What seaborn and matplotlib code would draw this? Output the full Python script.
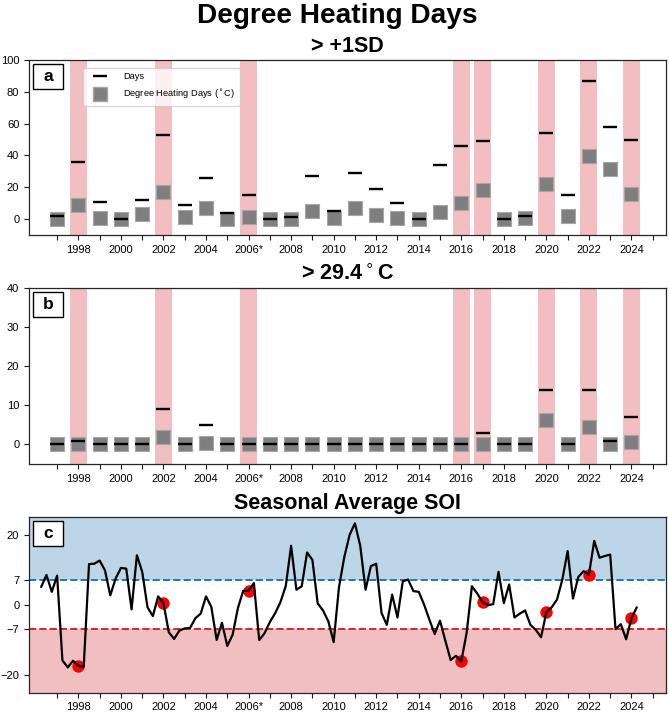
import numpy as np
import pandas as pd
import matplotlib
matplotlib.use("Agg")
import matplotlib.pyplot as plt
import seaborn as sns
from matplotlib.patches import Rectangle
from matplotlib.lines import Line2D

# ---------------- data ----------------
years = list(range(1997, 2025))
event_years = [1998, 2002, 2006, 2016, 2017, 2020, 2022, 2024]

days_sd = [2, 36, 11, 0, 12, 53, 9, 26, 4, 15, 0, 1, 27, 5,
           29, 19, 10, 0, 34, 46, 49, 0, 2, 54, 15, 87, 58, 50]
dhd_sd = [0.2, 9, 0.7, 0, 3, 16.7, 1.2, 7.2, 0, 1.5, 0, 0, 5, 0.6,
          7, 2.6, 0.7, 0, 4.5, 9.9, 18, 0, 0.5, 22, 1.9, 39.7, 31.7, 15.6]

days_294 = [0, 1, 0, 0, 0, 9, 0, 5, 0, 0, 0, 0, 0, 0,
            0, 0, 0, 0, 0, 0, 3, 0, 0, 14, 0, 14, 1, 7]
dhd_294 = [0, 0, 0, 0, 0, 1.9, 0, 0.5, 0, 0, 0, 0, 0, 0,
           0, 0, 0, 0, 0, 0, 0.1, 0, 0, 6.3, 0, 4.5, 0, 0.6]

soi_start = 1996.25
soi_values = [
    5.1, 8.5, 3.7,
    8.3, -15.8, -17.8, -15.9,
    -17.3, -17.7, 11.6, 11.7,
    12.6, 9.8, 2.7, 7.5,
    10.5, 10.3, -1.3, 14.1,
    9.4, -0.7, -3.2, 2.4,
    0.5, -7.8, -9.7, -7.3,
    -6.7, -6.6, -3.8, -2.5,
    2.4, -0.6, -10.0, -5.1,
    -11.7, -8.5, -0.9, 4.0,
    4.0, 6.2, -10.0, -8.1,
    -4.9, -2.4, 0.8, 5.4,
    16.8, 4.3, 5.3, 14.9,
    12.8, 0.4, -1.6, -4.7,
    -10.6, 5.0, 13.6, 19.9,
    23.2, 16.8, 4.3, 11.0,
    11.7, -2.3, -5.7, 2.9,
    -3.6, 6.7, 7.2, 3.9,
    3.7, 0.1, -4.2, -8.3,
    -4.5, -10.2, -15.7, -14.5,
    -16.1, -8.0, 5.3, 3.2,
    0.8, -0.1, 0.2, 9.4,
    0.5, 5.8, -3.6, -2.5,
    -1.6, -5.7, -7.1, -9.2,
    -2.1, -0.7, 1.5, 7.2,
    15.3, 1.8, 7.9, 9.6,
    8.6, 18.2, 13.4, 13.9,
    14.3, -6.9, -5.5, -9.8,
    -3.8, -0.7,
]
soi_event_values = [-17.3, 0.5, 4.0, -16.1, 0.8, -2.1, 8.6, -3.8]

tick_years = list(range(1997, 2026))
tick_labels = ['' if y % 2 else ('2006*' if y == 2006 else str(y)) for y in tick_years]

# ---------------- style ----------------
sns.set_style("ticks")
plt.rcParams['font.family'] = ['Liberation Sans', 'DejaVu Sans']
plt.rcParams['axes.edgecolor'] = '.15'
plt.rcParams['axes.linewidth'] = 0.9
plt.rcParams['text.color'] = 'black'
plt.rcParams['axes.titlecolor'] = 'black'
plt.rcParams['xtick.color'] = '.1'
plt.rcParams['ytick.color'] = '.1'
plt.rcParams['xtick.labelcolor'] = 'black'
plt.rcParams['ytick.labelcolor'] = 'black'

band_color = (0.95, 0.745, 0.757)
blue_fill = (0.737, 0.839, 0.910)
red_fill = (0.945, 0.745, 0.757)

fig = plt.figure(figsize=(6.69, 7.12), dpi=100)
L, W = 0.0434, 0.952
ax_a = fig.add_axes([L, 0.670, W, 0.2458])
ax_b = fig.add_axes([L, 0.3483, W, 0.2467])
ax_c = fig.add_axes([L, 0.0271, W, 0.2468])

xlim = (1995.68, 2025.62)
msize = 10.6
title_fs = 15.5


def panel_label(ax, txt):
    ax.add_patch(Rectangle((0.006, 0.835), 0.047, 0.142, transform=ax.transAxes,
                           facecolor='white', edgecolor='black', lw=1.0, zorder=5))
    ax.text(0.0295, 0.906, txt, transform=ax.transAxes, ha='center', va='center',
            fontsize=12.5, fontweight='bold', zorder=6)


def dhd_panel(ax, days, dhd, ylim, yticks, title, label):
    for y in event_years:
        ax.axvspan(y - 0.4, y + 0.4, color=band_color, lw=0, zorder=0)
    df = pd.DataFrame({'year': years, 'days': days, 'dhd': dhd})
    sns.scatterplot(data=df, x='year', y='dhd', marker='s', s=msize ** 2,
                    color='#7f7f7f', edgecolor='#a6a6a6', linewidth=0.8,
                    ax=ax, zorder=3, legend=False)
    sns.scatterplot(data=df, x='year', y='days', marker='_', s=msize ** 2,
                    color='black', linewidth=1.7, ax=ax, zorder=4, legend=False)
    ax.set_xlim(*xlim)
    ax.set_ylim(*ylim)
    ax.set_yticks(yticks)
    ax.set_xticks(tick_years)
    ax.set_xticklabels(tick_labels)
    ax.set_xlabel('')
    ax.set_ylabel('')
    ax.set_title(title, fontsize=title_fs, fontweight='bold', pad=6)
    ax.tick_params(labelsize=8, length=3.5, width=0.8)
    for s in ax.spines.values():
        s.set_visible(True)
    panel_label(ax, label)


dhd_panel(ax_a, days_sd, dhd_sd, (-10, 100), [0, 20, 40, 60, 80, 100], '> +1SD', 'a')
dhd_panel(ax_b, days_294, dhd_294, (-5, 40), [0, 10, 20, 30, 40], '> 29.4$^\\circ$C', 'b')

handles = [Line2D([], [], color='black', marker='_', linestyle='None', markersize=msize, mew=1.7),
           Line2D([], [], color='#7f7f7f', marker='s', linestyle='None', markersize=msize,
                  markeredgecolor='#a6a6a6')]
ax_a.legend(handles, ['Days', 'Degree Heating Days ($^\\circ$C)'], loc='upper left',
            bbox_to_anchor=(0.085, 0.955), borderaxespad=0, fontsize=6.7,
            handlelength=2.6, handletextpad=1.2, labelspacing=0.7, borderpad=0.5,
            frameon=True, fancybox=True)

# ---------------- SOI panel ----------------
soi_time = soi_start + 0.25 * np.arange(len(soi_values))
soi_df = pd.DataFrame({'time': soi_time, 'soi': soi_values})
ax_c.axhspan(7, 25, color=blue_fill, lw=0, zorder=0)
ax_c.axhspan(-25, -7, color=red_fill, lw=0, zorder=0)
ax_c.axhline(7, color='#1f77b4', ls='--', lw=1.4, zorder=1)
ax_c.axhline(-7, color='#d62728', ls='--', lw=1.4, zorder=1)
ev_df = pd.DataFrame({'year': event_years, 'soi': soi_event_values})
sns.scatterplot(data=ev_df, x='year', y='soi', color='red', s=80, linewidth=0,
                ax=ax_c, zorder=2, legend=False)
sns.lineplot(data=soi_df, x='time', y='soi', color='black', lw=1.6, ax=ax_c,
             zorder=3, legend=False)
ax_c.set_xlim(*xlim)
ax_c.set_ylim(-25, 25)
ax_c.set_yticks([-20, -7, 0, 7, 20])
ax_c.set_xticks(tick_years)
ax_c.set_xticklabels(tick_labels)
ax_c.set_xlabel('')
ax_c.set_ylabel('')
ax_c.set_title('Seasonal Average SOI', fontsize=title_fs, fontweight='bold', pad=6)
ax_c.tick_params(labelsize=8, length=3.5, width=0.8)
for s in ax_c.spines.values():
    s.set_visible(True)
panel_label(ax_c, 'c')

fig.text(0.5045, 0.967, 'Degree Heating Days', ha='center', va='baseline',
         fontsize=20.2, fontweight='bold')

fig.savefig('out.png', dpi=100)
